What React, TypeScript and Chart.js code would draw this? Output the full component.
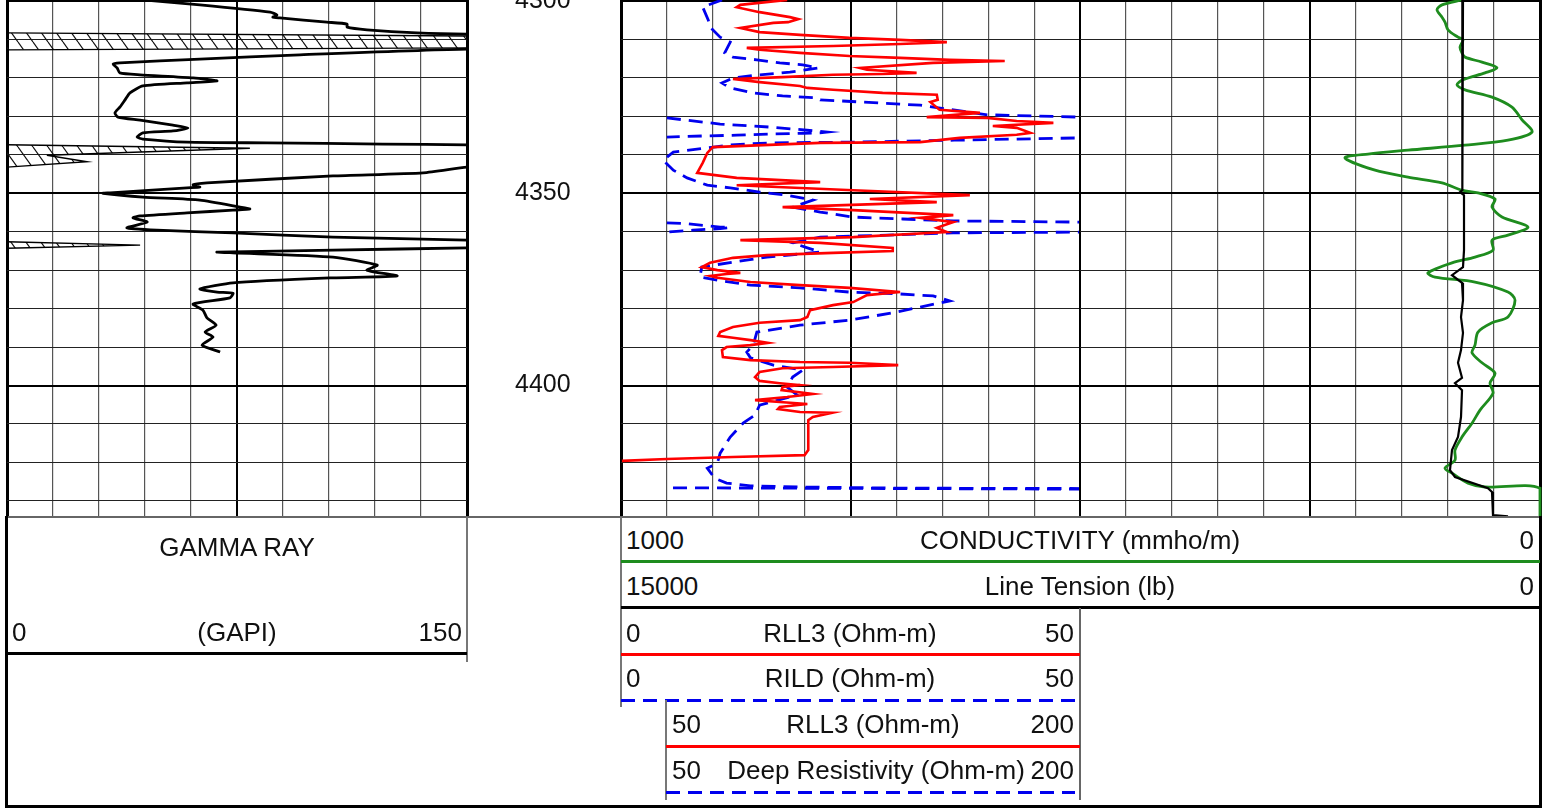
import React, { useEffect, useRef } from 'react';
import { Chart, registerables } from 'chart.js';

Chart.register(...registerables);

const FONT = '"Liberation Sans", Arial, Helvetica, sans-serif';

// ---- depth axis ----
const DEPTH_MIN = 4299.74;
const DEPTH_MAX = 4434.2;
const DEPTH_STEP = 10;
const DEPTH_LABEL_EVERY = 50;

// ---- Gamma ray (GAPI), [depth, value] ----
const GR_CURVE: [number, number][] = [
  [4299.7, 44.3], [4301.0, 62.9], [4302.9, 85.8], [4303.6, 88.0], [4304.2, 86.7], [4304.4, 89.0],
  [4305.5, 104.3], [4306.0, 110.9], [4306.8, 110.9], [4307.5, 117.4], [4308.3, 133.7], [4308.6, 150],
  [4309.2, 290], [4312.0, 290], [4312.5, 150], [4314.0, 95.5], [4315.1, 62.9], [4316.1, 36.8],
  [4316.4, 34.6], [4317.4, 35.9], [4318.7, 36.8], [4319.2, 43.4], [4320.0, 60.7], [4320.8, 68.5],
  [4321.3, 58.7], [4322.1, 44.3], [4323.9, 40.1], [4325.7, 38.5], [4327.6, 36.8], [4329.1, 35.2],
  [4330.2, 36.2], [4331.0, 43.4], [4332.3, 54.1], [4333.0, 59.0], [4333.8, 54.1], [4334.3, 44.3],
  [4335.4, 42.4], [4335.9, 44.3], [4336.7, 58.7], [4336.9, 84.8], [4337.2, 122.6], [4337.4, 150],
  [4338.2, 229], [4340.1, 164], [4341.6, 177], [4343.2, 150], [4344.7, 135.7], [4345.5, 106.3],
  [4347.3, 65.2], [4347.8, 60.7], [4348.4, 62.9], [4348.6, 58.7], [4349.9, 33.6], [4350.0, 31.3],
  [4351.0, 44.3], [4351.8, 62.9], [4353.6, 76.0], [4354.1, 79.2], [4354.4, 73.7], [4355.1, 58.7],
  [4355.9, 43.4], [4356.4, 41.1], [4357.5, 45.7], [4359.0, 39.1], [4359.6, 48.9], [4360.3, 73.7],
  [4361.4, 106.3], [4362.2, 150], [4363.5, 193], [4364.2, 150], [4364.8, 106.3], [4365.3, 68.5],
  [4365.5, 73.7], [4366.6, 106.3], [4368.7, 120.7], [4370.0, 117.4], [4371.5, 127.2], [4372.0, 106.3],
  [4373.3, 73.7], [4374.9, 62.9], [4375.7, 68.5], [4376.0, 73.7], [4377.2, 72.7], [4378.8, 60.7],
  [4380.4, 63.9], [4382.4, 65.2], [4384.3, 68.2], [4386.1, 64.6], [4387.4, 67.2], [4389.5, 63.6],
  [4391.3, 69.5],
];
// wrapped (off-scale) gamma ray, shown hatched
const GR_WRAP_1: [number, number][] = [[4308.3, 0], [4309.1, 150], [4309.3, 170], [4312.0, 170], [4312.2, 150], [4312.7, 0]];
const GR_WRAP_2: [number, number][] = [[4337.4, 0], [4338.3, 79.2], [4340.1, 13.0], [4341.8, 26.1], [4343.2, 0]];
const GR_WRAP_3: [number, number][] = [[4362.6, 0], [4363.5, 43.4], [4364.3, 0]];

// ---- RLL3 (Ohm-m, 0-50) ----
const RLL3: [number, number][] = [
  [4299.7, 18.1], [4301.0, 13.0], [4301.6, 12.6], [4302.9, 15.1], [4304.2, 18.4], [4304.7, 19.3],
  [4305.5, 18.2], [4305.7, 16.6], [4307.0, 13.0], [4308.1, 15.1], [4308.8, 19.5], [4309.6, 24.9],
  [4310.1, 30.4], [4310.7, 35.5], [4311.2, 30.4], [4311.7, 23.1], [4312.2, 13.7], [4312.7, 15.1],
  [4313.5, 19.5], [4314.3, 24.9], [4314.8, 30.4], [4315.3, 35.8], [4315.6, 41.8], [4316.1, 34.0],
  [4317.4, 26.0], [4317.9, 26.8], [4318.7, 32.2], [4319.0, 28.5], [4319.2, 23.1], [4319.8, 17.6],
  [4320.3, 12.2], [4321.1, 15.1], [4322.1, 19.5], [4322.6, 20.3], [4323.1, 23.1], [4323.9, 28.5],
  [4324.4, 34.4], [4325.7, 34.5], [4326.3, 33.7], [4328.3, 34.7], [4329.1, 39.1], [4330.2, 33.3],
  [4330.4, 39.9], [4331.2, 43.1], [4331.7, 47.1], [4332.5, 40.5], [4333.0, 43.1], [4334.3, 44.6],
  [4334.8, 43.1], [4335.6, 36.9], [4336.7, 32.6], [4336.9, 21.7], [4338.0, 10.0], [4339.5, 9.4],
  [4342.1, 8.9], [4344.7, 8.3], [4346.0, 12.6], [4347.1, 21.7], [4347.9, 12.6], [4349.2, 25.3],
  [4350.5, 38.0], [4351.5, 27.1], [4352.3, 34.4], [4353.6, 17.6], [4354.4, 25.3], [4355.7, 36.2],
  [4356.4, 32.6], [4357.5, 36.2], [4359.0, 34.4], [4360.1, 35.5], [4361.4, 25.3], [4362.2, 13.0],
  [4362.9, 21.7], [4364.2, 29.6], [4365.0, 29.6], [4365.5, 23.1], [4366.1, 15.9], [4366.8, 12.2],
  [4368.1, 9.7], [4369.2, 8.8], [4370.0, 10.5], [4370.7, 13.0], [4371.0, 11.5], [4371.5, 9.7],
  [4372.0, 10.5], [4373.1, 14.1], [4373.9, 19.5], [4374.6, 24.9], [4375.7, 30.4], [4376.5, 26.8],
  [4378.3, 25.3], [4379.1, 23.1], [4380.4, 20.6], [4382.2, 20.3], [4383.0, 19.5], [4383.7, 15.1],
  [4384.8, 12.2], [4386.1, 10.8], [4387.1, 10.6], [4387.6, 12.2], [4388.2, 14.1], [4388.9, 16.0],
  [4389.5, 14.1], [4390.0, 11.5], [4390.8, 11.0], [4392.6, 11.1], [4393.4, 14.1], [4393.9, 19.5],
  [4394.1, 24.9], [4394.7, 30.2], [4395.2, 23.1], [4395.5, 17.6], [4396.5, 15.1], [4397.8, 14.6],
  [4398.8, 15.1], [4399.4, 17.3], [4399.9, 19.5], [4400.4, 17.6], [4401.2, 17.5], [4402.2, 20.9],
  [4403.0, 18.1], [4403.8, 14.6], [4404.3, 17.3], [4404.8, 20.3], [4405.6, 17.3], [4406.1, 17.1],
  [4406.9, 19.5], [4407.1, 23.0], [4408.2, 20.9], [4409.0, 20.4], [4416.8, 20.4], [4418.1, 20.0],
  [4418.6, 12.2], [4419.1, 5.0], [4419.6, 0.1],
];

// ---- RILD (Ohm-m, 0-50) ----
const RILD: [number, number][] = [
  [4299.7, 11.0], [4301.6, 8.9], [4304.9, 9.5], [4306.8, 9.7], [4309.4, 10.8], [4310.7, 11.9],
  [4313.5, 11.3], [4314.6, 12.2], [4315.3, 14.8], [4316.1, 17.3], [4316.6, 19.8], [4317.4, 21.5],
  [4318.5, 18.4], [4319.2, 15.1], [4320.0, 12.2], [4321.3, 11.0], [4322.6, 11.9], [4323.9, 14.4],
  [4324.7, 17.6], [4325.2, 21.4], [4325.7, 21.7], [4327.1, 32.6], [4329.6, 39.9], [4330.2, 50],
  [4330.4, 80], [4335.4, 80], [4335.6, 50], [4336.2, 36.3], [4336.7, 25.4], [4336.9, 16.3],
  [4337.4, 11.9], [4338.0, 10.1], [4339.3, 5.7], [4341.4, 4.6], [4344.0, 5.7], [4346.0, 7.2],
  [4347.9, 9.4], [4348.6, 11.9], [4349.7, 15.1], [4350.5, 18.1], [4351.8, 20.9], [4353.6, 18.7],
  [4354.9, 21.7], [4356.2, 25.3], [4356.7, 30.7], [4357.2, 36.2], [4357.5, 50], [4357.7, 80],
  [4359.9, 80], [4360.1, 50], [4360.3, 36.2], [4360.9, 29.0], [4361.4, 21.7], [4362.9, 18.7],
  [4364.2, 20.3], [4365.3, 21.7], [4366.6, 15.9], [4367.9, 12.2], [4369.2, 8.8], [4371.8, 8.6],
  [4372.6, 10.5], [4373.9, 14.1], [4374.6, 19.5], [4375.7, 24.9], [4376.2, 30.4], [4376.7, 34.0],
  [4378.0, 35.8], [4379.8, 32.2], [4381.1, 29.6], [4383.0, 24.9], [4384.3, 19.5], [4386.1, 14.8],
  [4389.5, 14.4], [4391.3, 13.7], [4392.8, 14.1], [4394.7, 16.6], [4396.0, 19.8], [4397.8, 18.7],
  [4400.4, 18.1], [4402.5, 19.2], [4403.5, 17.6], [4405.1, 15.1], [4407.7, 14.6], [4409.8, 13.3],
  [4413.4, 11.9], [4417.6, 10.8], [4420.2, 10.5], [4421.5, 9.4], [4424.1, 10.2], [4425.4, 11.5],
  [4426.1, 14.1], [4426.4, 19.5], [4426.7, 30.4], [4426.8, 50], [4426.9, 80],
];
// deep resistivity backup (Ohm-m, 50-200)
const RILD_BACKUP_1: [number, number][] = [
  [4330.4, 65.0], [4332.0, 82.4], [4332.8, 98.7], [4333.6, 110.8], [4334.1, 117.3], [4334.3, 115.0],
  [4334.4, 109.5], [4334.6, 98.7], [4334.9, 87.9], [4335.1, 76.8], [4335.4, 65.0],
];
const RILD_BACKUP_2: [number, number][] = [
  [4357.7, 65.0], [4357.9, 71.6], [4358.8, 82.4], [4358.9, 85.6], [4359.2, 82.4], [4359.6, 73.5], [4360.1, 65.0],
];
const RILD_BACKUP_3: [number, number][] = [[4426.6, 67.0], [4426.8, 140], [4427.0, 220]];

// ---- Conductivity (mmho/m, 1000-0) ----
const CONDUCTIVITY: [number, number][] = [
  [4299.7, 169.6], [4301.0, 213.0], [4302.3, 223.9], [4304.2, 213.0], [4305.5, 206.5], [4307.5, 200.0],
  [4309.4, 178.3], [4310.1, 167.4], [4312.0, 173.9], [4313.5, 169.6], [4314.6, 163.0], [4315.9, 126.1],
  [4317.4, 93.5], [4318.7, 119.6], [4320.5, 167.4], [4321.8, 180.4], [4323.1, 163.0], [4325.0, 104.3],
  [4327.6, 60.9], [4330.9, 39.1], [4334.1, 17.4], [4336.2, 69.6], [4337.5, 163.0], [4338.8, 287.0],
  [4339.8, 373.9], [4340.8, 423.9], [4344.0, 358.7], [4345.8, 287.0], [4347.3, 213.0], [4349.2, 169.6],
  [4349.9, 134.8], [4351.5, 97.8], [4353.6, 104.3], [4356.2, 82.6], [4358.8, 26.1], [4360.9, 69.6],
  [4362.2, 104.3], [4364.8, 102.2], [4366.6, 141.3], [4368.1, 191.3], [4370.7, 243.5], [4371.8, 228.3],
  [4373.1, 141.3], [4375.7, 69.6], [4377.8, 54.3], [4382.2, 69.6], [4383.7, 104.3], [4386.1, 134.8],
  [4389.5, 141.3], [4391.5, 147.8], [4394.1, 126.1], [4396.8, 97.8], [4399.4, 108.7], [4402.0, 102.2],
  [4406.4, 130.4], [4409.8, 147.8], [4413.4, 169.6], [4416.8, 184.8], [4419.4, 184.8], [4421.5, 206.5],
  [4422.8, 191.3], [4425.4, 156.5], [4426.4, 119.6], [4426.7, 0], [4434.0, 0],
];

// ---- Line tension (lb, 15000-0) ----
const TENSION: [number, number][] = [
  [4299.7, 2511], [4325.7, 2543], [4336.2, 2511], [4349.2, 2543], [4349.7, 2609], [4350.5, 2478],
  [4364.8, 2478], [4369.2, 2511], [4371.3, 2870], [4373.3, 2543], [4377.8, 2511], [4382.2, 2576],
  [4386.3, 2511], [4390.8, 2576], [4394.1, 2674], [4398.0, 2543], [4399.4, 2772], [4401.2, 2543],
  [4408.2, 2576], [4413.4, 2674], [4416.8, 2870], [4422.0, 2935], [4423.8, 2772], [4426.7, 1696],
  [4427.7, 1565], [4433.7, 1533], [4434.0, 1043],
];

const pts = (a: [number, number][]) => a.map(([d, v]) => ({ x: v, y: d }));

const isMajorDepth = (v: number) => Math.abs(v - Math.round(v / DEPTH_LABEL_EVERY) * DEPTH_LABEL_EVERY) < 0.01;

function depthAxis(withLabels: boolean, labelWidth: number) {
  return {
    type: 'linear',
    position: withLabels ? 'right' : 'left',
    reverse: true,
    min: DEPTH_MIN,
    max: DEPTH_MAX,
    ticks: {
      display: withLabels,
      stepSize: DEPTH_STEP,
      includeBounds: false,
      autoSkip: false,
      padding: 48,
      crossAlign: 'near',
      color: '#111',
      font: { family: FONT, size: 25 },
      callback: (v: any) => (isMajorDepth(Number(v)) ? String(Math.round(Number(v))) : ''),
    },
    grid: {
      drawTicks: false,
      color: (c: any) => (isMajorDepth(c.tick.value) ? '#000' : '#222'),
      lineWidth: (c: any) => (isMajorDepth(c.tick.value) ? 2 : 1),
    },
    border: { display: false },
    afterFit: (s: any) => {
      s.width = labelWidth;
      s.paddingTop = 0;
      s.paddingBottom = 0;
    },
  };
}

function valueAxis(min: number, max: number, step: number, reverse: boolean, edgeLeft: number, edgeRight: number) {
  const mid = (min + max) / 2;
  const leftVal = reverse ? max : min;
  const rightVal = reverse ? min : max;
  return {
    type: 'linear',
    min,
    max,
    reverse,
    ticks: { display: false, stepSize: step },
    grid: {
      drawTicks: false,
      color: (c: any) => {
        const v = c.tick.value;
        return v === min || v === max || v === mid ? '#000' : '#555';
      },
      lineWidth: (c: any) => {
        const v = c.tick.value;
        if (v === leftVal) return edgeLeft;
        if (v === rightVal) return edgeRight;
        if (v === mid) return 2;
        return 1.2;
      },
    },
    border: { display: false },
  };
}

function hiddenAxis(min: number, max: number, reverse: boolean) {
  return { type: 'linear', display: false, min, max, reverse };
}

function makeHatch(): CanvasPattern | string {
  const c = document.createElement('canvas');
  c.width = 15;
  c.height = 21;
  const g = c.getContext('2d');
  if (!g) return 'rgba(0,0,0,0.2)';
  g.strokeStyle = '#111';
  g.lineWidth = 1.2;
  for (const off of [-15, 0, 15]) {
    g.beginPath();
    g.moveTo(off, 0);
    g.lineTo(off + 15, 21);
    g.stroke();
  }
  return g.createPattern(c, 'repeat') || 'rgba(0,0,0,0.2)';
}

const line = (data: [number, number][], color: string, width: number, extra: any = {}) => ({
  data: pts(data),
  borderColor: color,
  borderWidth: width,
  pointRadius: 0,
  tension: 0,
  fill: false,
  clip: 0,
  ...extra,
});

const baseOptions = (padding: any, scales: any) => ({
  responsive: false,
  animation: false,
  indexAxis: 'y',
  layout: { padding },
  events: [],
  plugins: { legend: { display: false }, tooltip: { enabled: false } },
  scales,
});

const RED = '#ff0000';
const BLUE = '#0000ee';
const GREEN = '#1e8c1e';
const DASH = [14, 8];

type TProps = { x: number; y: number; align?: 'left' | 'right' | 'center'; children: React.ReactNode };
function T({ x, y, align = 'left', children }: TProps) {
  const w = 600;
  const left = align === 'left' ? x : align === 'right' ? x - w : x - w / 2;
  return (
    <div
      style={{
        position: 'absolute',
        left,
        top: y - 16,
        width: w,
        height: 32,
        lineHeight: '32px',
        fontSize: 26,
        color: '#111',
        textAlign: align,
        whiteSpace: 'nowrap',
      }}
    >
      {children}
    </div>
  );
}

function R({ l, t, w, h, bg }: { l: number; t: number; w: number; h: number; bg: string }) {
  return <div style={{ position: 'absolute', left: l, top: t, width: w, height: h, background: bg }} />;
}

const dashedBg = `repeating-linear-gradient(to right, ${BLUE} 0px, ${BLUE} 14px, transparent 14px, transparent 22px)`;

export default function App() {
  const grRef = useRef<HTMLCanvasElement>(null);
  const resRef = useRef<HTMLCanvasElement>(null);
  const condRef = useRef<HTMLCanvasElement>(null);

  useEffect(() => {
    const charts: Chart[] = [];
    const hatch = makeHatch();
    const hatchDs = (d: [number, number][]) => ({
      data: pts(d),
      borderColor: '#000',
      borderWidth: 1.4,
      backgroundColor: hatch,
      pointRadius: 0,
      tension: 0,
      fill: { value: 0 },
      clip: 0,
    });

    if (grRef.current) {
      charts.push(
        new Chart(grRef.current, {
          type: 'line',
          data: {
            datasets: [
              line(GR_CURVE, '#000', 2.8, { tension: 0.2 }),
              hatchDs(GR_WRAP_1),
              hatchDs(GR_WRAP_2),
              hatchDs(GR_WRAP_3),
            ],
          },
          options: baseOptions({ left: 4, right: 0, top: 0, bottom: 0 }, {
            x: valueAxis(0, 150, 15, false, 3, 3),
            y: depthAxis(true, 153),
          }) as any,
        } as any)
      );
    }
    if (resRef.current) {
      charts.push(
        new Chart(resRef.current, {
          type: 'line',
          data: {
            datasets: [
              line(RLL3, RED, 2.6),
              line(RILD, BLUE, 2.8, { borderDash: DASH }),
              line(RILD_BACKUP_1, BLUE, 2.8, { borderDash: DASH, xAxisID: 'x2' }),
              line(RILD_BACKUP_2, BLUE, 2.8, { borderDash: DASH, xAxisID: 'x2' }),
              line(RILD_BACKUP_3, BLUE, 2.8, { borderDash: DASH, xAxisID: 'x2' }),
            ],
          },
          options: baseOptions({ left: 4, right: 2, top: 0, bottom: 0 }, {
            x: valueAxis(0, 50, 5, false, 3, 2),
            x2: hiddenAxis(50, 200, false),
            y: depthAxis(false, 0),
          }) as any,
        } as any)
      );
    }
    if (condRef.current) {
      charts.push(
        new Chart(condRef.current, {
          type: 'line',
          data: {
            datasets: [
              line(TENSION, '#000', 2.2, { xAxisID: 'x2' }),
              line(CONDUCTIVITY, GREEN, 2.8, { clip: 2, tension: 0.3 }),
            ],
          },
          options: baseOptions({ left: 2, right: 3, top: 0, bottom: 0 }, {
            x: valueAxis(0, 1000, 100, true, 2, 3),
            x2: hiddenAxis(0, 15000, true),
            y: depthAxis(false, 0),
          }) as any,
        } as any)
      );
    }
    return () => charts.forEach((c) => c.destroy());
  }, []);

  return (
    <div
      style={{
        position: 'fixed',
        left: 0,
        top: 0,
        width: 1554,
        height: 809,
        background: '#fff',
        overflow: 'hidden',
        fontFamily: FONT,
      }}
    >
      <canvas ref={grRef} width={617} height={517} style={{ position: 'absolute', left: 3, top: 0 }} />
      <canvas ref={resRef} width={465} height={517} style={{ position: 'absolute', left: 617, top: 0 }} />
      <canvas ref={condRef} width={465} height={517} style={{ position: 'absolute', left: 1078, top: 0 }} />

      {/* footer frame */}
      <R l={5} t={516} w={1537} h={2} bg="#666" />
      <R l={5} t={516} w={3} h={292} bg="#000" />
      <R l={1539} t={516} w={3} h={292} bg="#000" />
      <R l={5} t={805} w={1537} h={3} bg="#000" />

      {/* gamma ray header */}
      <R l={466} t={517} w={1.5} h={145} bg="#777" />
      <T x={237} y={547} align="center">GAMMA RAY</T>
      <T x={12} y={632}>0</T>
      <T x={237} y={632} align="center">(GAPI)</T>
      <T x={462} y={632} align="right">150</T>
      <R l={7} t={652} w={460} h={3} bg="#000" />

      {/* conductivity / tension header */}
      <R l={620} t={517} w={1.5} h={190} bg="#777" />
      <T x={626} y={540}>1000</T>
      <T x={1080} y={540} align="center">CONDUCTIVITY (mmho/m)</T>
      <T x={1534} y={540} align="right">0</T>
      <R l={621} t={560} w={919} h={3} bg={GREEN} />
      <T x={626} y={586}>15000</T>
      <T x={1080} y={586} align="center">Line Tension (lb)</T>
      <T x={1534} y={586} align="right">0</T>
      <R l={621} t={606} w={919} h={3} bg="#000" />

      {/* resistivity headers */}
      <R l={1079} t={608} w={1.5} h={192} bg="#666" />
      <T x={626} y={633}>0</T>
      <T x={850} y={633} align="center">RLL3 (Ohm-m)</T>
      <T x={1074} y={633} align="right">50</T>
      <R l={621} t={653} w={459} h={3} bg={RED} />
      <T x={626} y={678}>0</T>
      <T x={850} y={678} align="center">RILD (Ohm-m)</T>
      <T x={1074} y={678} align="right">50</T>
      <R l={621} t={699} w={454} h={3} bg={dashedBg} />

      <R l={665} t={700} w={1.5} h={100} bg="#777" />
      <T x={672} y={724}>50</T>
      <T x={873} y={724} align="center">RLL3 (Ohm-m)</T>
      <T x={1074} y={724} align="right">200</T>
      <R l={666} t={745} w={414} h={3} bg={RED} />
      <T x={672} y={770}>50</T>
      <T x={876} y={770} align="center">Deep Resistivity (Ohm-m)</T>
      <T x={1074} y={770} align="right">200</T>
      <R l={666} t={791} w={409} h={3} bg={dashedBg} />
    </div>
  );
}
